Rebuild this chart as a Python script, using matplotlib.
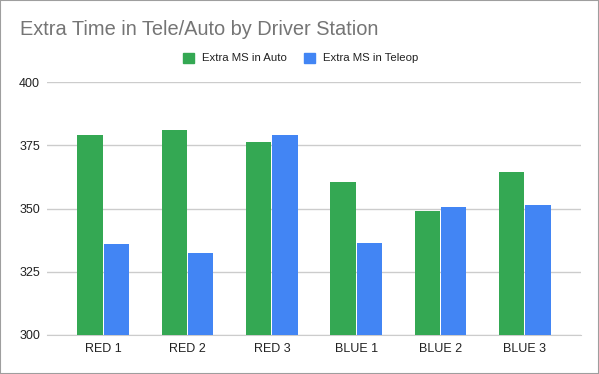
import numpy as np
import matplotlib.pyplot as plt
from matplotlib.patches import Patch

plt.rcParams['font.family'] = ['Liberation Sans', 'DejaVu Sans']

stations = ['RED 1', 'RED 2', 'RED 3', 'BLUE 1', 'BLUE 2', 'BLUE 3']
auto_ms = [379.1, 381.1, 376.5, 360.5, 349.2, 364.5]
teleop_ms = [336.0, 332.5, 379.1, 336.4, 350.7, 351.4]

green = '#34a853'
blue = '#4285f4'

W, H = 599, 374
fig = plt.figure(figsize=(W / 100, H / 100), dpi=100)
ax = fig.add_axes([47 / W, 39 / H, 534 / W, 252.7 / H])

x = np.arange(len(stations))
bw = 0.30
ax.bar(x - bw / 2 - 0.006, auto_ms, bw, color=green, zorder=3)
ax.bar(x + bw / 2 + 0.006, teleop_ms, bw, color=blue, zorder=3)

ax.set_ylim(300, 400)
ax.set_xlim(-0.666, 5.666)
ax.set_yticks([300, 325, 350, 375, 400])
ax.set_xticks(x)
ax.set_xticklabels(stations)
ax.grid(axis='y', color='#cccccc', linewidth=1, zorder=0)
for s in ax.spines.values():
    s.set_visible(False)
ax.spines['bottom'].set_visible(True)
ax.spines['bottom'].set_color('#cccccc')
ax.tick_params(axis='both', length=0, labelsize=9, colors='#222222')
ax.tick_params(axis='y', pad=5)
ax.tick_params(axis='x', pad=6)

fig.text(20 / W, 1 - 35 / H, 'Extra Time in Tele/Auto by Driver Station',
         fontsize=14.4, color='#757575', va='baseline', ha='left')

handles = [Patch(color=green, label='Extra MS in Auto'),
           Patch(color=blue, label='Extra MS in Teleop')]
fig.legend(handles=handles, loc='center', bbox_to_anchor=(0.502, 1 - 58 / H),
           ncol=2, frameon=False, fontsize=8.2, handlelength=1.0, handleheight=1.0,
           handletextpad=0.7, columnspacing=1.5, labelcolor='#222222')

fig.patches.append(plt.Rectangle((0, 0), 1, 1, transform=fig.transFigure,
                                 fill=False, edgecolor='#9e9e9e', linewidth=1.5))

plt.savefig('out.png', dpi=100)
